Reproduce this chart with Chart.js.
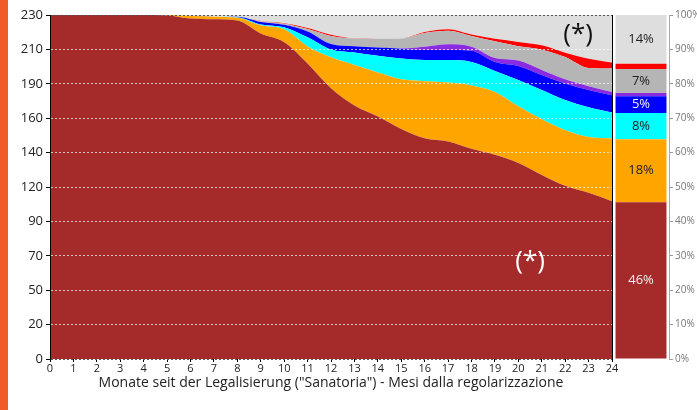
<!DOCTYPE html>
<html>
<head>
<meta charset="utf-8">
<script src="https://cdn.jsdelivr.net/npm/chart.js@4/dist/chart.umd.min.js"></script>
<style>
  html, body { margin: 0; padding: 0; background: #fff; }
  #wrap { position: relative; width: 697px; height: 410px; overflow: hidden; }
  #strip { position: absolute; left: 0; top: 0; width: 8px; height: 410px; background: #f15a2b; }
  canvas { position: absolute; left: 0; top: 0; }
</style>
</head>
<body>
<div id="wrap">
  <div id="strip"></div>
  <canvas id="areaChart" width="697" height="410"></canvas>
  <canvas id="shareChart" width="697" height="410"></canvas>
</div>
<script>
const fontFamily = '"Open Sans", "Noto Sans", sans-serif';

// months since legalisation
const months = ['0','1','2','3','4','5','6','7','8','9','10','11','12','13','14','15','16','17','18','19','20','21','22','23','24'];

// left axis: ticks every 10% of 230, with the labels the original prints
const yTickValues = [0, 23, 46, 69, 92, 115, 138, 161, 184, 207, 230];
const yTickLabels = ['0', '20', '50', '70', '90', '120', '140', '160', '190', '210', '230'];

// stacked layers, bottom to top
const brownVals  = [230,230,230,230,230,229.7,227.6,227.1,226.3,217.6,211.8,197.6,181.0,169.5,162.1,153.8,147.6,145.4,140.5,136.5,131.1,123.1,115.8,111.1,105.5];
const orangeVals = [0,0,0,0,0,0.3,1.7,1.8,1.9,5.5,8.6,11.4,20.7,27.1,29.4,33.2,38.1,39.4,42.4,42.1,37.9,37.2,37.2,37.4,42.0];
const cyanVals   = [0,0,0,0,0,0,0,0,0.3,0.6,1.4,6.1,5.2,8.3,11.2,13.9,14.2,15.1,15.7,14.0,17.6,19.6,20.2,19.8,17.3];
const blueVals   = [0,0,0,0,0,0,0,0,0.3,1.6,1.6,3.9,3.7,4.2,5.6,6.6,6.7,6.7,7.5,6.0,9.3,10.0,11.0,11.6,11.5];
const purpleVals = [0,0,0,0,0,0,0,0,0,0,0,0,0,0,0,0.1,2.2,3.8,2.7,2.7,3.7,3.4,2.8,2.5,2.2];
const greyVals   = [0,0,0,0,0,0,0,0,0,0.5,0.8,1.6,5.4,5.2,5.9,6.7,9.2,9.1,7.2,11.1,9.5,13.5,14.9,12.2,15.7];
const redVals    = [0,0,0,0,0,0,0,0,0,0.2,0.3,0.7,0.8,0.1,0,0,0.6,0.9,0.9,1.7,2.9,2.9,2.9,6.2,4.0];
const unknownVals = [0,0,0,0,0,0,0.7,1.1,1.2,4.0,5.5,8.7,13.2,15.6,15.8,15.7,11.4,9.6,13.1,15.9,18.0,20.3,25.2,29.2,31.8];

// right bar: final shares in percent, same order
const shareValues = [45.6, 18.3, 7.6, 4.9, 0.9, 7.0, 1.5, 14.2];
const shareLabels = ['46%', '18%', '8%', '5%', '', '7%', '', '14%'];
const shareTickLabels = ['0%','10%','20%','30%','40%','50%','60%','70%','80%','90%','100%'];

const layerColors = ['#a52a2a', '#ffa500', '#00ffff', '#0000ff', '#8a2be2', '#b5b5b5', '#ff0000', '#dedede'];
const shareTextColors = ['#f2f2f2', '#222', '#222', '#f2f2f2', '#222', '#222', '#222', '#222'];

// "(*)" marks, placed in data coordinates
const notes = [
  { text: '(*)', month: 22.55, value: 217, color: '#111' },
  { text: '(*)', month: 20.5, value: 65, color: '#fff' }
];

const layers = [brownVals, orangeVals, cyanVals, blueVals, purpleVals, greyVals, redVals, unknownVals];

const notesPlugin = {
  id: 'notes',
  afterDraw(chart) {
    const ctx = chart.ctx;
    const { x, y } = chart.scales;
    ctx.save();
    ctx.font = '26px ' + fontFamily;
    ctx.textAlign = 'center';
    ctx.textBaseline = 'middle';
    notes.forEach(n => {
      ctx.fillStyle = n.color;
      ctx.fillText(n.text, x.getPixelForValue(n.month), y.getPixelForValue(n.value));
    });
    ctx.restore();
  }
};

new Chart(document.getElementById('areaChart'), {
  type: 'line',
  data: {
    labels: months,
    datasets: layers.map((vals, i) => ({
      label: 'layer ' + i,
      data: vals,
      backgroundColor: layerColors[i],
      borderColor: 'rgba(0,0,0,0)',
      borderWidth: 0,
      pointRadius: 0,
      fill: i === 0 ? 'origin' : '-1',
      cubicInterpolationMode: 'monotone'
    }))
  },
  options: {
    responsive: false,
    animation: false,
    layout: { padding: { top: 15, right: 85, left: 0, bottom: 0 } },
    scales: {
      x: {
        offset: false,
        afterFit: s => { s.height = 51; },
        ticks: { color: '#222', font: { family: fontFamily, size: 11 }, padding: 0, maxRotation: 0, autoSkip: false },
        grid: {
          z: 1,
          color: c => c.index === months.length - 1 ? '#000' : 'rgba(0,0,0,0)',
          tickColor: '#000', tickLength: 3, lineWidth: 1
        },
        border: { display: false },
        title: {
          display: true,
          text: 'Monate seit der Legalisierung ("Sanatoria") - Mesi dalla regolarizzazione',
          color: '#222',
          font: { family: fontFamily, size: 14 },
          padding: { top: 0, bottom: 19 }
        }
      },
      y: {
        stacked: true,
        min: 0,
        max: 230,
        afterBuildTicks: s => { s.ticks = yTickValues.map(v => ({ value: v })); },
        afterFit: s => { s.width = 50; },
        ticks: { callback: (v, i) => yTickLabels[i], color: '#222', font: { family: fontFamily, size: 13 }, padding: 3 },
        grid: {
          z: 1,
          color: c => (c.tick && (c.tick.value === 0 || c.tick.value === 230)) ? '#555' : 'rgba(255,255,255,0.7)',
          tickColor: '#000', tickLength: 4, tickBorderDash: [], lineWidth: 1
        },
        border: { display: true, color: '#000', width: 1, dash: [2, 2], z: 2 }
      }
    },
    plugins: { legend: { display: false }, tooltip: { enabled: false } }
  },
  plugins: [notesPlugin]
});

const shareLabelPlugin = {
  id: 'shareLabels',
  afterDatasetsDraw(chart) {
    const ctx = chart.ctx;
    ctx.save();
    ctx.font = '13px ' + fontFamily;
    ctx.textAlign = 'center';
    ctx.textBaseline = 'middle';
    shareLabels.forEach((txt, i) => {
      if (!txt) return;
      const bar = chart.getDatasetMeta(i).data[0];
      ctx.fillStyle = shareTextColors[i];
      ctx.fillText(txt, bar.x, (bar.y + bar.base) / 2);
    });
    ctx.restore();
  }
};

new Chart(document.getElementById('shareChart'), {
  type: 'bar',
  data: {
    labels: ['24'],
    datasets: shareValues.map((v, i) => ({
      data: [v],
      backgroundColor: layerColors[i],
      borderWidth: 0,
      barPercentage: 0.91,
      categoryPercentage: 1
    }))
  },
  options: {
    responsive: false,
    animation: false,
    layout: { padding: { left: 613, top: 15, bottom: 51, right: 0 } },
    scales: {
      x: { display: false, stacked: true },
      y: {
        stacked: true,
        position: 'right',
        min: 0,
        max: 100,
        afterFit: s => { s.width = 28; },
        ticks: { stepSize: 10, callback: (v, i) => shareTickLabels[i], color: '#777', font: { family: fontFamily, size: 10 }, padding: 2 },
        grid: { drawOnChartArea: false, tickLength: 4, tickColor: '#999' },
        border: { color: '#aaa' }
      }
    },
    plugins: { legend: { display: false }, tooltip: { enabled: false } }
  },
  plugins: [shareLabelPlugin]
});
</script>
</body>
</html>
